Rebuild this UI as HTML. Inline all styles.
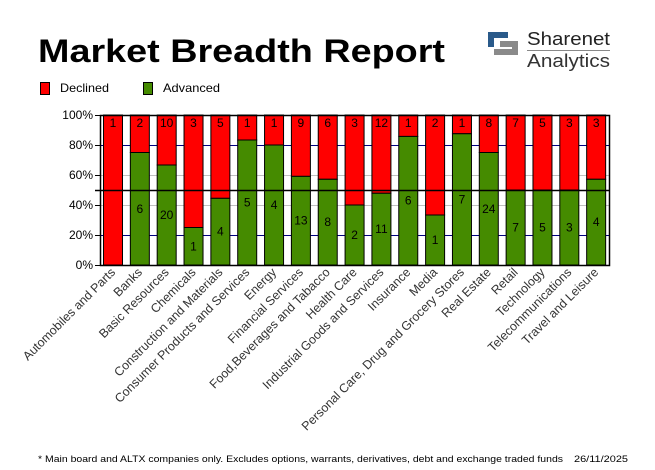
<!DOCTYPE html>
<html><head><meta charset="utf-8"><style>
body{margin:0;background:#fff;}
svg{display:block;font-family:"Liberation Sans",sans-serif;}
</style></head><body>
<svg width="655" height="470" viewBox="0 0 655 470" xmlns="http://www.w3.org/2000/svg">
<rect width="655" height="470" fill="#fff"/>
<text x="38" y="62" font-size="32" font-weight="bold" textLength="407" lengthAdjust="spacingAndGlyphs">Market Breadth Report</text>
<rect x="488" y="32" width="20" height="6" fill="#2a5a8a"/>
<rect x="488" y="32" width="6" height="15" fill="#2a5a8a"/>
<rect x="500" y="41" width="18" height="6" fill="#8a8a8a"/>
<rect x="512" y="41" width="6" height="14" fill="#8a8a8a"/>
<rect x="494" y="49" width="24" height="6" fill="#8a8a8a"/>
<text x="527" y="45" font-size="18" fill="#222" textLength="83" lengthAdjust="spacingAndGlyphs">Sharenet</text>
<rect x="527" y="50" width="83" height="1" fill="#888"/>
<text x="527" y="67" font-size="18" fill="#333" textLength="83" lengthAdjust="spacingAndGlyphs">Analytics</text>
<rect x="40.5" y="82.5" width="9" height="12" fill="#f00" stroke="#000"/>
<text x="60" y="92" font-size="12" textLength="49" lengthAdjust="spacingAndGlyphs">Declined</text>
<rect x="143.5" y="82.5" width="9" height="12" fill="#458b00" stroke="#000"/>
<text x="163" y="92" font-size="12" textLength="57" lengthAdjust="spacingAndGlyphs">Advanced</text>
<g id="chart"></g>
<text x="38" y="462" font-size="9.5" textLength="525" lengthAdjust="spacingAndGlyphs">* Main board and ALTX companies only. Excludes options, warrants, derivatives, debt and exchange traded funds</text>
<text x="574" y="462" font-size="9.5" textLength="54" lengthAdjust="spacingAndGlyphs">26/11/2025</text>
</svg>
<script>
var d=[["Automobiles and Parts",0,1],["Banks",6,2],["Basic Resources",20,10],["Chemicals",1,3],["Construction and Materials",4,5],["Consumer Products and Services",5,1],["Energy",4,1],["Financial Services",13,9],["Food,Beverages and Tabacco",8,6],["Health Care",2,3],["Industrial Goods and Services",11,12],["Insurance",6,1],["Media",1,2],["Personal Care, Drug and Grocery Stores",7,1],["Real Estate",24,8],["Retail",7,7],["Technology",5,5],["Telecommunications",3,3],["Travel and Leisure",4,3]];
var s='',L=100,R=610,T=115,B=265,pitch=(R-L)/19;
function y(p){return B-p*1.5;}
[20,80].forEach(function(p){s+='<line x1="'+L+'" x2="'+R+'" y1="'+(y(p)+.5)+'" y2="'+(y(p)+.5)+'" stroke="#000080"/>';});
[40,60].forEach(function(p){s+='<line x1="'+L+'" x2="'+R+'" y1="'+(y(p)+.5)+'" y2="'+(y(p)+.5)+'" stroke="#c0c0c0"/>';});
for(var p=0;p<=100;p+=20){s+='<line x1="95" x2="'+L+'" y1="'+(y(p)+.5)+'" y2="'+(y(p)+.5)+'" stroke="#000"/>';
s+='<text x="93" y="'+(y(p)+4)+'" font-size="12" text-anchor="end">'+p+'%</text>';}
d.forEach(function(r,i){
 var x=L+3.5+i*pitch,w=19,tot=r[1]+r[2],pa=r[1]/tot*100,cx=x+w/2,yg=y(pa);
 s+='<rect x="'+x+'" y="'+T+'" width="'+w+'" height="'+(yg-T)+'" fill="#f00" stroke="#000"/>';
 if(r[1]>0)s+='<rect x="'+x+'" y="'+yg+'" width="'+w+'" height="'+(B-yg)+'" fill="#458b00" stroke="#000"/>';
 s+='<text x="'+cx+'" y="'+(T+12)+'" font-size="12" text-anchor="middle">'+r[2]+'</text>';
 if(r[1]>0)s+='<text x="'+cx+'" y="'+((yg+B)/2+4)+'" font-size="12" text-anchor="middle">'+r[1]+'</text>';
 s+='<text transform="translate('+(cx+3)+',273) rotate(-45)" font-size="12.4" text-anchor="end" fill="#333">'+r[0]+'</text>';
});
s+='<line x1="95" x2="'+R+'" y1="'+(y(50)+.5)+'" y2="'+(y(50)+.5)+'" stroke="#000" stroke-width="1.5"/>';
s+='<rect x="'+(L+.5)+'" y="'+(T+.5)+'" width="'+(R-L-1)+'" height="'+(B-T)+'" fill="none" stroke="#000" stroke-width="1.5"/>';
document.getElementById('chart').innerHTML=s;
</script>
</body></html>
